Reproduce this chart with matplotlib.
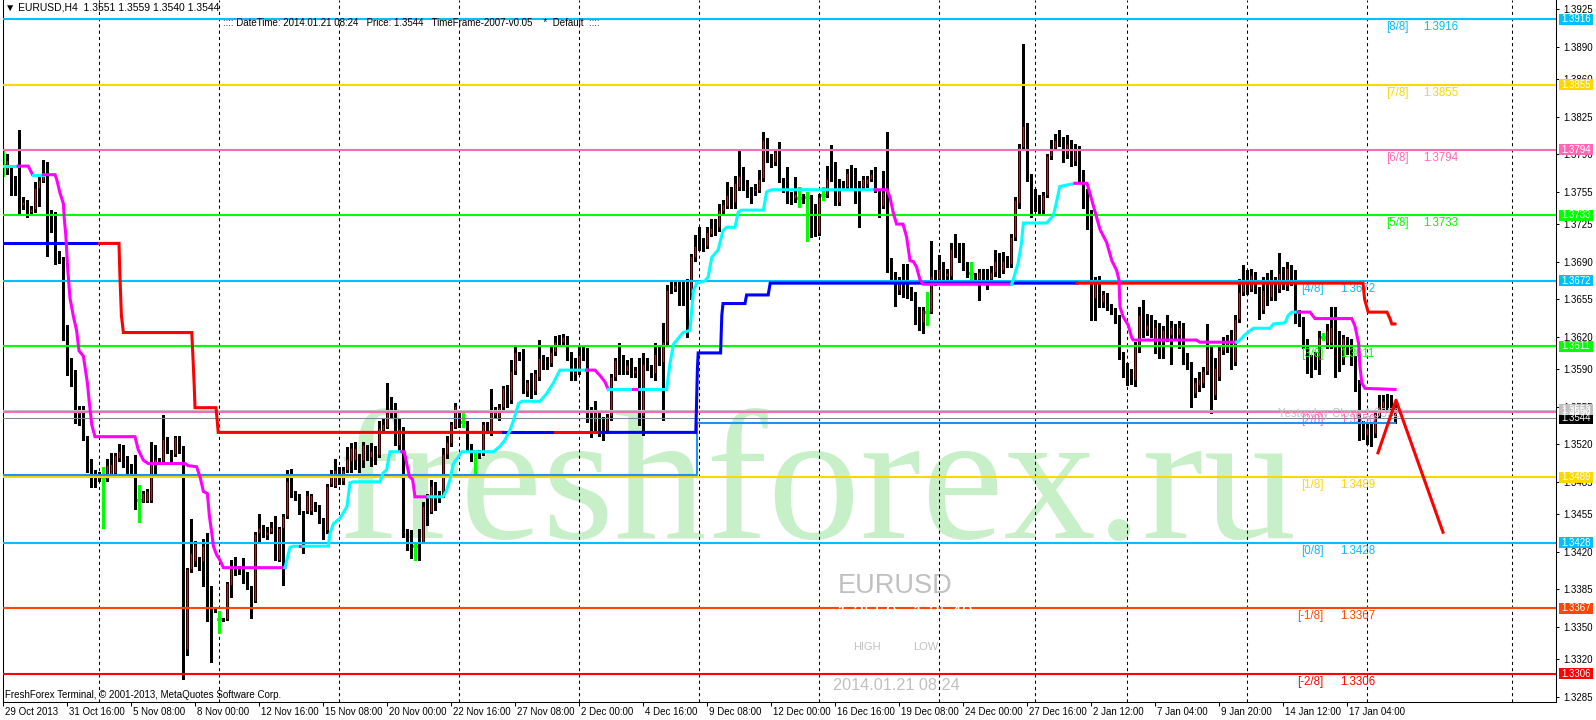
"""
EURUSD H4 chart with Murrey Math levels, trend lines and terminal labels
"""
import matplotlib
matplotlib.use("Agg")
import matplotlib.pyplot as plt
import matplotlib.transforms as mtransforms
from matplotlib.patches import Rectangle

plt.rcParams['font.family'] = ['Liberation Sans', 'DejaVu Sans']

# H4 candles, oldest first
opens = [
    1.3780, 1.3775, 1.3775, 1.3766, 1.3766, 1.3743, 1.3746, 1.3736, 1.3739, 1.3759,
    1.3765, 1.3771, 1.3736, 1.3734, 1.3699, 1.3692, 1.3620, 1.3600, 1.3587, 1.3548,
    1.3555, 1.3527, 1.3496, 1.3494, 1.3488, 1.3489, 1.3488, 1.3491, 1.3493, 1.3507,
    1.3515, 1.3506, 1.3501, 1.3494, 1.3468, 1.3466, 1.3467, 1.3468, 1.3502, 1.3506,
    1.3504, 1.3525, 1.3514, 1.3511, 1.3526, 1.3517, 1.3329, 1.3404, 1.3411, 1.3412,
    1.3411, 1.3425, 1.3388, 1.3366, 1.3357, 1.3357, 1.3357, 1.3389, 1.3407, 1.3406,
    1.3404, 1.3399, 1.3386, 1.3374, 1.3437, 1.3440, 1.3435, 1.3438, 1.3445, 1.3412,
    1.3442, 1.3453, 1.3483, 1.3474, 1.3473, 1.3456, 1.3458, 1.3458, 1.3463, 1.3461,
    1.3450, 1.3440, 1.3483, 1.3481, 1.3496, 1.3486, 1.3496, 1.3504, 1.3505, 1.3508,
    1.3505, 1.3514, 1.3508, 1.3514, 1.3510, 1.3533, 1.3536, 1.3549, 1.3549, 1.3519,
    1.3533, 1.3439, 1.3438, 1.3425, 1.3429, 1.3429, 1.3461, 1.3457, 1.3482, 1.3474,
    1.3474, 1.3511, 1.3521, 1.3536, 1.3549, 1.3541, 1.3540, 1.3518, 1.3514, 1.3514,
    1.3514, 1.3538, 1.3530, 1.3547, 1.3545, 1.3555, 1.3572, 1.3561, 1.3588, 1.3604,
    1.3601, 1.3570, 1.3578, 1.3570, 1.3583, 1.3599, 1.3596, 1.3596, 1.3606, 1.3618,
    1.3615, 1.3617, 1.3603, 1.3585, 1.3587, 1.3606, 1.3601, 1.3549, 1.3541, 1.3549,
    1.3541, 1.3533, 1.3546, 1.3583, 1.3599, 1.3598, 1.3588, 1.3595, 1.3586, 1.3588,
    1.3546, 1.3594, 1.3592, 1.3586, 1.3603, 1.3597, 1.3615, 1.3667, 1.3665, 1.3668,
    1.3667, 1.3670, 1.3661, 1.3694, 1.3716, 1.3707, 1.3705, 1.3716, 1.3723, 1.3722,
    1.3737, 1.3742, 1.3752, 1.3746, 1.3760, 1.3769, 1.3763, 1.3757, 1.3756, 1.3757,
    1.3768, 1.3803, 1.3787, 1.3783, 1.3790, 1.3766, 1.3758, 1.3752, 1.3749, 1.3749,
    1.3751, 1.3750, 1.3749, 1.3742, 1.3717, 1.3752, 1.3752, 1.3772, 1.3771, 1.3746,
    1.3761, 1.3760, 1.3772, 1.3767, 1.3760, 1.3760, 1.3762, 1.3767, 1.3772, 1.3755,
    1.3742, 1.3755, 1.3684, 1.3676, 1.3664, 1.3678, 1.3670, 1.3664, 1.3660, 1.3645,
    1.3634, 1.3643, 1.3643, 1.3676, 1.3674, 1.3684, 1.3677, 1.3677, 1.3702, 1.3700,
    1.3696, 1.3688, 1.3679, 1.3677, 1.3674, 1.3680, 1.3680, 1.3674, 1.3680, 1.3692,
    1.3682, 1.3691, 1.3688, 1.3713, 1.3745, 1.3797, 1.3816, 1.3768, 1.3756, 1.3750,
    1.3738, 1.3752, 1.3788, 1.3796, 1.3810, 1.3800, 1.3790, 1.3800, 1.3784, 1.3795,
    1.3770, 1.3752, 1.3735, 1.3656, 1.3674, 1.3652, 1.3658, 1.3649, 1.3645, 1.3637,
    1.3604, 1.3593, 1.3587, 1.3580, 1.3611, 1.3640, 1.3626, 1.3629, 1.3614, 1.3628,
    1.3614, 1.3629, 1.3622, 1.3628, 1.3622, 1.3630, 1.3603, 1.3595, 1.3568, 1.3575,
    1.3577, 1.3588, 1.3609, 1.3566, 1.3583, 1.3608, 1.3611, 1.3612, 1.3597, 1.3637,
    1.3662, 1.3679, 1.3665, 1.3673, 1.3664, 1.3645, 1.3670, 1.3657, 1.3667, 1.3665,
    1.3676, 1.3667, 1.3682, 1.3679, 1.3640, 1.3635, 1.3615, 1.3600, 1.3602, 1.3598,
    1.3620, 1.3614, 1.3614, 1.3631, 1.3620, 1.3599, 1.3615, 1.3612, 1.3598, 1.3577,
    1.3539, 1.3529, 1.3536, 1.3530, 1.3547, 1.3555, 1.3559, 1.3550, 1.3551,
]
highs = [
    1.3793, 1.3790, 1.3780, 1.3770, 1.3813, 1.3750, 1.3747, 1.3742, 1.3764, 1.3772,
    1.3785, 1.3783, 1.3738, 1.3736, 1.3700, 1.3694, 1.3631, 1.3600, 1.3589, 1.3556,
    1.3556, 1.3528, 1.3506, 1.3496, 1.3494, 1.3499, 1.3506, 1.3512, 1.3512, 1.3520,
    1.3519, 1.3509, 1.3502, 1.3510, 1.3482, 1.3476, 1.3478, 1.3522, 1.3519, 1.3507,
    1.3547, 1.3527, 1.3515, 1.3528, 1.3528, 1.3518, 1.3405, 1.3450, 1.3430, 1.3415,
    1.3432, 1.3437, 1.3388, 1.3368, 1.3365, 1.3358, 1.3392, 1.3412, 1.3415, 1.3407,
    1.3414, 1.3401, 1.3388, 1.3438, 1.3455, 1.3445, 1.3443, 1.3448, 1.3453, 1.3443,
    1.3455, 1.3496, 1.3497, 1.3476, 1.3474, 1.3458, 1.3476, 1.3474, 1.3466, 1.3463,
    1.3451, 1.3483, 1.3496, 1.3506, 1.3499, 1.3499, 1.3517, 1.3521, 1.3522, 1.3511,
    1.3522, 1.3519, 1.3521, 1.3518, 1.3542, 1.3544, 1.3577, 1.3564, 1.3558, 1.3544,
    1.3536, 1.3441, 1.3440, 1.3429, 1.3441, 1.3466, 1.3474, 1.3487, 1.3485, 1.3476,
    1.3516, 1.3528, 1.3541, 1.3558, 1.3551, 1.3549, 1.3542, 1.3520, 1.3515, 1.3515,
    1.3541, 1.3541, 1.3571, 1.3555, 1.3557, 1.3574, 1.3575, 1.3598, 1.3611, 1.3606,
    1.3609, 1.3580, 1.3586, 1.3589, 1.3617, 1.3603, 1.3601, 1.3611, 1.3621, 1.3622,
    1.3623, 1.3621, 1.3606, 1.3600, 1.3612, 1.3612, 1.3610, 1.3555, 1.3560, 1.3552,
    1.3545, 1.3548, 1.3585, 1.3600, 1.3614, 1.3603, 1.3598, 1.3600, 1.3592, 1.3600,
    1.3605, 1.3600, 1.3594, 1.3614, 1.3612, 1.3633, 1.3668, 1.3671, 1.3672, 1.3673,
    1.3673, 1.3674, 1.3697, 1.3715, 1.3722, 1.3712, 1.3722, 1.3730, 1.3730, 1.3744,
    1.3747, 1.3764, 1.3760, 1.3770, 1.3794, 1.3778, 1.3766, 1.3760, 1.3762, 1.3775,
    1.3811, 1.3805, 1.3790, 1.3795, 1.3801, 1.3768, 1.3778, 1.3755, 1.3769, 1.3760,
    1.3753, 1.3755, 1.3752, 1.3744, 1.3753, 1.3760, 1.3779, 1.3799, 1.3783, 1.3767,
    1.3765, 1.3776, 1.3780, 1.3777, 1.3765, 1.3770, 1.3770, 1.3775, 1.3778, 1.3758,
    1.3774, 1.3811, 1.3693, 1.3680, 1.3676, 1.3688, 1.3688, 1.3666, 1.3662, 1.3648,
    1.3648, 1.3662, 1.3709, 1.3682, 1.3696, 1.3690, 1.3683, 1.3707, 1.3716, 1.3707,
    1.3707, 1.3690, 1.3690, 1.3679, 1.3683, 1.3683, 1.3683, 1.3686, 1.3701, 1.3698,
    1.3699, 1.3695, 1.3716, 1.3750, 1.3800, 1.3893, 1.3819, 1.3772, 1.3758, 1.3752,
    1.3755, 1.3790, 1.3803, 1.3809, 1.3813, 1.3806, 1.3808, 1.3803, 1.3800, 1.3798,
    1.3775, 1.3758, 1.3738, 1.3676, 1.3677, 1.3663, 1.3661, 1.3651, 1.3647, 1.3640,
    1.3606, 1.3596, 1.3590, 1.3615, 1.3648, 1.3654, 1.3641, 1.3640, 1.3636, 1.3633,
    1.3630, 1.3640, 1.3635, 1.3632, 1.3635, 1.3633, 1.3605, 1.3597, 1.3582, 1.3587,
    1.3592, 1.3632, 1.3612, 1.3600, 1.3612, 1.3620, 1.3622, 1.3626, 1.3640, 1.3674,
    1.3687, 1.3682, 1.3683, 1.3680, 1.3666, 1.3676, 1.3679, 1.3682, 1.3676, 1.3698,
    1.3685, 1.3690, 1.3687, 1.3682, 1.3645, 1.3638, 1.3618, 1.3603, 1.3606, 1.3625,
    1.3624, 1.3632, 1.3648, 1.3648, 1.3625, 1.3622, 1.3620, 1.3618, 1.3602, 1.3580,
    1.3542, 1.3540, 1.3540, 1.3552, 1.3566, 1.3566, 1.3567, 1.3566, 1.3559,
]
lows = [
    1.3770, 1.3772, 1.3752, 1.3752, 1.3734, 1.3739, 1.3732, 1.3734, 1.3736, 1.3742,
    1.3764, 1.3695, 1.3718, 1.3688, 1.3689, 1.3617, 1.3584, 1.3574, 1.3540, 1.3538,
    1.3524, 1.3494, 1.3480, 1.3480, 1.3486, 1.3442, 1.3486, 1.3489, 1.3491, 1.3504,
    1.3499, 1.3491, 1.3491, 1.3460, 1.3448, 1.3466, 1.3466, 1.3466, 1.3489, 1.3502,
    1.3504, 1.3512, 1.3504, 1.3509, 1.3512, 1.3301, 1.3324, 1.3401, 1.3407, 1.3403,
    1.3388, 1.3355, 1.3317, 1.3364, 1.3344, 1.3355, 1.3356, 1.3378, 1.3398, 1.3399,
    1.3391, 1.3385, 1.3358, 1.3373, 1.3430, 1.3434, 1.3432, 1.3437, 1.3412, 1.3411,
    1.3389, 1.3451, 1.3471, 1.3468, 1.3455, 1.3419, 1.3456, 1.3455, 1.3458, 1.3447,
    1.3432, 1.3437, 1.3481, 1.3480, 1.3483, 1.3483, 1.3494, 1.3494, 1.3497, 1.3494,
    1.3499, 1.3505, 1.3500, 1.3502, 1.3508, 1.3532, 1.3535, 1.3544, 1.3519, 1.3515,
    1.3434, 1.3421, 1.3414, 1.3412, 1.3412, 1.3428, 1.3445, 1.3456, 1.3459, 1.3466,
    1.3471, 1.3507, 1.3518, 1.3535, 1.3536, 1.3536, 1.3513, 1.3504, 1.3491, 1.3507,
    1.3510, 1.3530, 1.3529, 1.3544, 1.3543, 1.3553, 1.3555, 1.3558, 1.3585, 1.3598,
    1.3568, 1.3565, 1.3563, 1.3567, 1.3580, 1.3590, 1.3590, 1.3593, 1.3603, 1.3613,
    1.3613, 1.3598, 1.3580, 1.3580, 1.3585, 1.3598, 1.3541, 1.3527, 1.3532, 1.3528,
    1.3524, 1.3530, 1.3543, 1.3580, 1.3585, 1.3585, 1.3585, 1.3583, 1.3583, 1.3538,
    1.3529, 1.3589, 1.3583, 1.3580, 1.3594, 1.3543, 1.3612, 1.3661, 1.3663, 1.3650,
    1.3650, 1.3620, 1.3655, 1.3691, 1.3701, 1.3700, 1.3703, 1.3714, 1.3715, 1.3719,
    1.3733, 1.3740, 1.3740, 1.3740, 1.3757, 1.3757, 1.3750, 1.3745, 1.3752, 1.3755,
    1.3765, 1.3783, 1.3778, 1.3780, 1.3764, 1.3755, 1.3745, 1.3744, 1.3746, 1.3741,
    1.3745, 1.3709, 1.3713, 1.3714, 1.3715, 1.3747, 1.3750, 1.3765, 1.3743, 1.3743,
    1.3757, 1.3757, 1.3758, 1.3745, 1.3722, 1.3757, 1.3760, 1.3765, 1.3755, 1.3732,
    1.3740, 1.3680, 1.3670, 1.3649, 1.3660, 1.3657, 1.3656, 1.3654, 1.3632, 1.3626,
    1.3624, 1.3631, 1.3642, 1.3668, 1.3670, 1.3674, 1.3670, 1.3674, 1.3694, 1.3690,
    1.3682, 1.3676, 1.3674, 1.3670, 1.3654, 1.3670, 1.3665, 1.3670, 1.3677, 1.3676,
    1.3679, 1.3685, 1.3685, 1.3710, 1.3740, 1.3795, 1.3765, 1.3732, 1.3737, 1.3733,
    1.3735, 1.3750, 1.3786, 1.3794, 1.3798, 1.3783, 1.3787, 1.3779, 1.3780, 1.3765,
    1.3740, 1.3720, 1.3636, 1.3636, 1.3648, 1.3648, 1.3645, 1.3641, 1.3633, 1.3599,
    1.3583, 1.3575, 1.3576, 1.3574, 1.3606, 1.3620, 1.3622, 1.3620, 1.3605, 1.3600,
    1.3600, 1.3616, 1.3595, 1.3618, 1.3610, 1.3595, 1.3590, 1.3555, 1.3564, 1.3570,
    1.3573, 1.3585, 1.3549, 1.3562, 1.3580, 1.3604, 1.3606, 1.3590, 1.3594, 1.3634,
    1.3659, 1.3660, 1.3663, 1.3661, 1.3637, 1.3642, 1.3650, 1.3654, 1.3654, 1.3662,
    1.3665, 1.3664, 1.3668, 1.3633, 1.3630, 1.3610, 1.3586, 1.3583, 1.3590, 1.3585,
    1.3617, 1.3610, 1.3610, 1.3583, 1.3588, 1.3595, 1.3604, 1.3594, 1.3570, 1.3524,
    1.3525, 1.3520, 1.3518, 1.3527, 1.3544, 1.3552, 1.3550, 1.3547, 1.3540,
]
closes = [
    1.3780, 1.3785, 1.3765, 1.3764, 1.3736, 1.3746, 1.3734, 1.3739, 1.3759, 1.3766,
    1.3770, 1.3735, 1.3734, 1.3702, 1.3691, 1.3620, 1.3598, 1.3587, 1.3543, 1.3553,
    1.3525, 1.3496, 1.3494, 1.3486, 1.3491, 1.3489, 1.3501, 1.3502, 1.3510, 1.3514,
    1.3504, 1.3499, 1.3494, 1.3466, 1.3468, 1.3475, 1.3476, 1.3504, 1.3506, 1.3504,
    1.3525, 1.3514, 1.3511, 1.3527, 1.3517, 1.3329, 1.3404, 1.3419, 1.3427, 1.3409,
    1.3425, 1.3388, 1.3366, 1.3365, 1.3357, 1.3355, 1.3391, 1.3404, 1.3402, 1.3401,
    1.3394, 1.3386, 1.3373, 1.3436, 1.3442, 1.3435, 1.3438, 1.3443, 1.3414, 1.3442,
    1.3453, 1.3486, 1.3473, 1.3469, 1.3456, 1.3442, 1.3473, 1.3473, 1.3460, 1.3448,
    1.3438, 1.3481, 1.3489, 1.3496, 1.3486, 1.3496, 1.3506, 1.3516, 1.3516, 1.3504,
    1.3519, 1.3508, 1.3514, 1.3508, 1.3535, 1.3539, 1.3549, 1.3546, 1.3521, 1.3534,
    1.3437, 1.3435, 1.3422, 1.3425, 1.3425, 1.3462, 1.3458, 1.3481, 1.3474, 1.3468,
    1.3511, 1.3522, 1.3539, 1.3556, 1.3541, 1.3541, 1.3516, 1.3515, 1.3514, 1.3511,
    1.3539, 1.3533, 1.3549, 1.3553, 1.3555, 1.3572, 1.3560, 1.3588, 1.3606, 1.3600,
    1.3570, 1.3578, 1.3570, 1.3586, 1.3600, 1.3594, 1.3593, 1.3606, 1.3615, 1.3615,
    1.3620, 1.3603, 1.3584, 1.3587, 1.3603, 1.3603, 1.3549, 1.3541, 1.3549, 1.3541,
    1.3534, 1.3546, 1.3583, 1.3598, 1.3588, 1.3590, 1.3594, 1.3586, 1.3589, 1.3546,
    1.3595, 1.3591, 1.3586, 1.3604, 1.3597, 1.3615, 1.3664, 1.3664, 1.3668, 1.3659,
    1.3657, 1.3659, 1.3695, 1.3705, 1.3707, 1.3704, 1.3718, 1.3721, 1.3721, 1.3738,
    1.3744, 1.3752, 1.3743, 1.3763, 1.3770, 1.3760, 1.3753, 1.3752, 1.3758, 1.3767,
    1.3803, 1.3786, 1.3782, 1.3792, 1.3766, 1.3758, 1.3747, 1.3747, 1.3753, 1.3749,
    1.3748, 1.3750, 1.3716, 1.3717, 1.3750, 1.3752, 1.3767, 1.3768, 1.3746, 1.3760,
    1.3760, 1.3773, 1.3761, 1.3760, 1.3755, 1.3767, 1.3767, 1.3772, 1.3758, 1.3741,
    1.3755, 1.3684, 1.3673, 1.3664, 1.3670, 1.3673, 1.3663, 1.3660, 1.3637, 1.3632,
    1.3645, 1.3643, 1.3677, 1.3673, 1.3683, 1.3677, 1.3679, 1.3702, 1.3698, 1.3695,
    1.3685, 1.3679, 1.3679, 1.3674, 1.3680, 1.3674, 1.3674, 1.3680, 1.3691, 1.3680,
    1.3691, 1.3688, 1.3713, 1.3747, 1.3797, 1.3816, 1.3767, 1.3750, 1.3741, 1.3736,
    1.3752, 1.3788, 1.3796, 1.3803, 1.3800, 1.3790, 1.3800, 1.3784, 1.3795, 1.3770,
    1.3752, 1.3730, 1.3651, 1.3674, 1.3652, 1.3660, 1.3648, 1.3645, 1.3637, 1.3603,
    1.3587, 1.3582, 1.3581, 1.3611, 1.3640, 1.3626, 1.3631, 1.3626, 1.3629, 1.3614,
    1.3626, 1.3626, 1.3629, 1.3626, 1.3629, 1.3601, 1.3594, 1.3567, 1.3578, 1.3581,
    1.3588, 1.3609, 1.3566, 1.3591, 1.3608, 1.3612, 1.3614, 1.3597, 1.3637, 1.3662,
    1.3670, 1.3664, 1.3678, 1.3664, 1.3645, 1.3664, 1.3654, 1.3671, 1.3657, 1.3679,
    1.3668, 1.3684, 1.3671, 1.3637, 1.3634, 1.3615, 1.3600, 1.3594, 1.3594, 1.3620,
    1.3620, 1.3626, 1.3629, 1.3595, 1.3592, 1.3619, 1.3608, 1.3597, 1.3577, 1.3532,
    1.3530, 1.3535, 1.3529, 1.3549, 1.3556, 1.3560, 1.3554, 1.3555, 1.3544,
]

# smoothed trailing line: vertices (bar, price) and colour of the following piece
trend_x = [
    0, 3.8, 6.3, 7.4, 10.1, 13.0, 13.4, 14.25, 15.1, 15.3,
    15.7, 16.2, 16.75, 17.6, 18.4, 19.0, 20.1, 21.1, 21.6, 22.2,
    23.0, 33.0, 33.8, 35.1, 36.3, 45.5, 46.3, 48.4, 49.3, 50.1,
    51.1, 51.6, 52.2, 52.6, 53.4, 54.25, 55.1, 70.5, 71.75, 72.6,
    74.2, 75.0, 81.3, 81.75, 82.6, 84.25, 86.0, 86.75, 87.6, 94.25,
    95.0, 95.9, 96.75, 99.7, 100.3, 101.6, 102.4, 103.0, 106.3, 110.0,
    110.9, 111.75, 112.6, 113.8, 114.7, 122.6, 124.25, 125.5, 126.75, 127.6,
    128.9, 129.75, 134.25, 135.9, 137.6, 138.4, 139.25, 145.9, 148.0, 149.25,
    150.5, 151.3, 157.6, 159.25, 165.9, 166.75, 167.6, 170.0, 171.75, 172.6,
    173.4, 175.5, 176.3, 177.2, 178.8, 180.0, 180.9, 183.0, 183.8, 184.6,
    190.1, 190.9, 192.2, 218.0, 221.0, 221.75, 222.6, 223.4, 225.0, 225.9,
    226.75, 227.6, 228.4, 229.25, 230.0, 252.2, 253.75, 254.6, 255.1, 260.9,
    262.6, 263.4, 264.2, 268.0, 271.0, 272.0, 273.5, 274.25, 275.9, 277.2,
    278.4, 279.0, 279.25, 280.0, 281.3, 282.2, 282.6, 298.4, 299.2, 308.4,
    309.25, 310.5, 312.6, 316.75, 317.6, 320.5, 321.3, 322.2, 323.8, 326.75,
    328.0, 337.2, 338.0, 338.9, 339.25, 339.7, 340.5, 348.0,
]
trend_y = [
    1.3779, 1.3779, 1.3779, 1.3771, 1.3771, 1.3771, 1.3767, 1.3754, 1.3744, 1.3731,
    1.3715, 1.3682, 1.3656, 1.3639, 1.3626, 1.3607, 1.3602, 1.3577, 1.3558, 1.3538,
    1.3527, 1.3527, 1.3515, 1.3505, 1.3502, 1.3502, 1.3500, 1.3499, 1.3489, 1.3476,
    1.3474, 1.3453, 1.3437, 1.3425, 1.3417, 1.3412, 1.3405, 1.3405, 1.3424, 1.3425,
    1.3425, 1.3425, 1.3425, 1.3437, 1.3446, 1.3451, 1.3462, 1.3484, 1.3485, 1.3485,
    1.3493, 1.3496, 1.3513, 1.3513, 1.3513, 1.3490, 1.3487, 1.3471, 1.3471, 1.3471,
    1.3477, 1.3487, 1.3502, 1.3508, 1.3513, 1.3513, 1.3518, 1.3524, 1.3533, 1.3542,
    1.3558, 1.3560, 1.3560, 1.3567, 1.3577, 1.3583, 1.3589, 1.3589, 1.3589, 1.3584,
    1.3578, 1.3571, 1.3571, 1.3571, 1.3571, 1.3595, 1.3613, 1.3624, 1.3626, 1.3663,
    1.3670, 1.3672, 1.3676, 1.3694, 1.3701, 1.3719, 1.3722, 1.3722, 1.3736, 1.3738,
    1.3738, 1.3755, 1.3757, 1.3757, 1.3757, 1.3750, 1.3735, 1.3725, 1.3725, 1.3713,
    1.3691, 1.3690, 1.3685, 1.3673, 1.3669, 1.3669, 1.3688, 1.3707, 1.3726, 1.3726,
    1.3733, 1.3746, 1.3760, 1.3763, 1.3763, 1.3750, 1.3730, 1.3720, 1.3708, 1.3691,
    1.3682, 1.3673, 1.3648, 1.3639, 1.3631, 1.3619, 1.3617, 1.3617, 1.3615, 1.3615,
    1.3617, 1.3622, 1.3628, 1.3628, 1.3632, 1.3633, 1.3640, 1.3643, 1.3643, 1.3643,
    1.3637, 1.3637, 1.3630, 1.3614, 1.3592, 1.3577, 1.3572, 1.3571,
]
trend_dir = ("cmmcmmmmmm" "mmmmmmmmmm" "mmmmmmmmmm" "mmmmmmmccc" "mccccccccc"
             "cccmmmmmcc" "cccccccccc" "cccccccmmm" "mcmccccccc" "cccccccccc"
             "cccmmmmmmm" "mmmmmccccc" "cccmmmmmmm" "mmmmmmmmmc" "ccccccccmm"
             "mmmmmmmm")

# stepped trend line (blue = up, red = down)
step_x = [0, 24.1, 29.0, 29.2, 29.4, 29.6, 30.1, 47.2, 47.5, 47.8, 48.0, 53.25,
          53.6, 53.8, 125.0, 138.0, 149.25, 173.2, 173.4, 173.6, 173.8, 179.4,
          179.7, 180.0, 185.5, 185.9, 191.3, 191.8, 268.5, 340.0, 340.4, 341.3,
          346.0, 346.75, 347.2, 348.0]
step_y = [1.3707, 1.3707, 1.3707, 1.3680, 1.3660, 1.3640, 1.3624, 1.3624, 1.3600,
          1.3575, 1.3554, 1.3554, 1.3540, 1.3531, 1.3531, 1.3531, 1.3531, 1.3531,
          1.3560, 1.3590, 1.3605, 1.3605, 1.3640, 1.3651, 1.3651, 1.3659, 1.3659,
          1.3670, 1.3670, 1.3670, 1.3655, 1.3643, 1.3643, 1.3637, 1.3632, 1.3632]
step_dir = "brrrrrrrrrrrrr" "brb" "bbbbbbbbbbb" "rrrrrrrr"

# support line and hand drawn arrow
support_x = [0, 173.5, 173.5, 348.0]
support_y = [1.3491, 1.3491, 1.3540, 1.3540]
arrow_x = [343.75, 348.25, 360.0]
arrow_y = [1.3512, 1.3561, 1.3438]

# Murrey Math levels
murrey_levels = [1.3916, 1.3855, 1.3794, 1.3733, 1.3672, 1.3611,
                 1.3550, 1.3489, 1.3428, 1.3367, 1.3306]
murrey_names = ['[8/8]', '[7/8]', '[6/8]', '[5/8]', '[4/8]', '[3/8]',
                '[2/8]', '[1/8]', '[0/8]', '[-1/8]', '[-2/8]']
murrey_colors = ['#00bfff', '#ffd700', '#ff69b4', '#00ff00', '#00bfff', '#00ff00',
                 '#ff69b4', '#ffd700', '#00bfff', '#ff4500', '#ff0000']
yesterday_close = 1.3552
bid_price = 1.3544

ytick_values = [1.3925, 1.3890, 1.3860, 1.3825, 1.3790, 1.3755, 1.3725, 1.3690,
                1.3655, 1.3620, 1.3590, 1.3555, 1.3520, 1.3485, 1.3455, 1.3420,
                1.3385, 1.3350, 1.3320, 1.3285]
date_labels = ['29 Oct 2013', '31 Oct 16:00', '5 Nov 08:00', '8 Nov 00:00',
               '12 Nov 16:00', '15 Nov 08:00', '20 Nov 00:00', '22 Nov 16:00',
               '27 Nov 08:00', '2 Dec 00:00', '4 Dec 16:00', '9 Dec 08:00',
               '12 Dec 00:00', '16 Dec 16:00', '19 Dec 08:00', '24 Dec 00:00',
               '27 Dec 16:00', '2 Jan 12:00', '7 Jan 04:00', '9 Jan 20:00',
               '14 Jan 12:00', '17 Jan 04:00']
label_step = 16
grid_bars = [24, 54, 84, 114, 144, 174, 204, 234, 258, 281, 311, 341, 377.25]

W, H = 1596, 720
fig = plt.figure(figsize=(W / 100, H / 100), dpi=100)
ax = fig.add_axes([2.5 / W, 18 / H, 1553.5 / W, 702 / H])
ax.set_xlim(-0.125, 388.25)
ax.set_ylim(1.32799, 1.39337)
px = 1 / 10737  # one screen pixel in price units


def draw_colored(xs, ys, codes, cmap, lw, z):
    start = 0
    for k in range(1, len(xs)):
        if k == len(xs) - 1 or codes[k] != codes[start]:
            ax.plot(xs[start:k + 1], ys[start:k + 1], color=cmap[codes[start]],
                    lw=lw, solid_capstyle='projecting', solid_joinstyle='miter',
                    zorder=z)
            start = k


# watermark and info texts (under everything)
ax.text(817 / W, 1 - 538 / H, 'freshforex.ru', transform=fig.transFigure,
        fontsize=133, family='Liberation Serif', color='#c8f0c8',
        ha='center', va='baseline', zorder=0.5)
ax.text(895 / W, 1 - 586 / H, 'EURUSD', transform=fig.transFigure,
        fontsize=19.5, color='#c0c0c0', ha='center', va='center', zorder=0.6)
ax.text(867 / W, 1 - 647 / H, 'HIGH', transform=fig.transFigure,
        fontsize=8, color='#c0c0c0', ha='center', va='center', zorder=0.6)
ax.text(926 / W, 1 - 647 / H, 'LOW', transform=fig.transFigure,
        fontsize=8, color='#c0c0c0', ha='center', va='center', zorder=0.6)
ax.text(896 / W, 1 - 685 / H, '2014.01.21 08:24', transform=fig.transFigure,
        fontsize=11.7, color='#c0c0c0', ha='center', va='center', zorder=0.6)

# grid
for b in grid_bars:
    ax.axvline(b, color='black', lw=0.75, ls=(0, (3, 3)), zorder=1)

# candles
wick_x, wick_lo, wick_hi = [], [], []
doji_x, doji_lo, doji_hi, doji_c = [], [], [], []
for i in range(len(opens)):
    o, h, l, c = opens[i], highs[i], lows[i], closes[i]
    if o == c:
        doji_x.append(i)
        doji_lo.append(l)
        doji_hi.append(h)
        doji_c.append(c)
        continue
    wick_x.append(i)
    wick_lo.append(l)
    wick_hi.append(h)
    ax.add_patch(Rectangle((i - 0.36, min(o, c)), 0.72, max(abs(c - o), px),
                           facecolor='#ff0000' if c > o else 'black',
                           edgecolor='black', lw=0.45, zorder=2.2))
ax.vlines(wick_x, wick_lo, wick_hi, color='black', lw=0.75, zorder=2.1,
          antialiased=False)
ax.vlines(doji_x, doji_lo, doji_hi, color='#00ff00', lw=0.75, zorder=2.1,
          antialiased=False)
ax.hlines(doji_c, [x - 0.4 for x in doji_x], [x + 0.4 for x in doji_x],
          color='#00ff00', lw=0.75, zorder=2.1, antialiased=False)

# horizontal levels
for lvl, col in zip(murrey_levels, murrey_colors):
    ax.axhline(lvl, color=col, lw=1.5, zorder=3)
ax.axhline(yesterday_close, color='#c0c0c0', lw=0.75, zorder=3)
ax.axhline(bid_price, color='#778899', lw=0.75, zorder=3)

# hidden white text crossing the -1/8 line
ax.text(905 / W, 1 - 613 / H, '1.3559   1.3540', transform=fig.transFigure,
        fontsize=14, color='white', ha='center', va='center', zorder=3.5)

# level captions
for k, (lvl, name, col) in enumerate(zip(murrey_levels, murrey_names, murrey_colors)):
    if k < 4:
        x_name, x_val = 345.75, 355.0
    else:
        x_name, x_val = 324.5 if k < 9 else 323.5, 334.25
    ax.text(x_name, lvl - 8 * px, name, color=col, fontsize=8.3,
            ha='left', va='center', zorder=3.6)
    ax.text(x_val, lvl - 8 * px, f'{lvl:.4f}', color=col, fontsize=8.3,
            ha='left', va='center', zorder=3.6)
ax.text(318.75, yesterday_close - 4 * px, f'Yesterday Close {yesterday_close:.4f}',
        color='#c0c0c0', fontsize=8.3, ha='left', va='center', zorder=3.55)

# indicator lines
ax.plot(support_x, support_y, color='#1e90ff', lw=1.5, zorder=4)
draw_colored(step_x, step_y, step_dir, {'b': '#0000ff', 'r': '#ff0000'}, 2.2, 4.5)
draw_colored(trend_x, trend_y, trend_dir, {'c': '#00ffff', 'm': '#ff00ff'}, 2.2, 5)
ax.plot(arrow_x, arrow_y, color='#ff0000', lw=2.2, zorder=5.5)

# axes styling
for side in ['left', 'right', 'bottom']:
    ax.spines[side].set_linewidth(0.75)
ax.spines['top'].set_visible(False)
ax.yaxis.tick_right()
ax.set_yticks(ytick_values)
ax.set_yticklabels([f'{v:.4f}' for v in ytick_values])
ax.tick_params(axis='y', direction='out', length=2.5, width=0.75, pad=2.5,
               labelsize=7)
label_bars = [label_step * k for k in range(len(date_labels))]
ax.set_xticks(label_bars)
ax.set_xticklabels([])
ax.tick_params(axis='x', direction='out', length=3, width=0.75)
xt = mtransforms.blended_transform_factory(ax.transData, ax.transAxes)
for b, lab in zip(label_bars, date_labels):
    ax.text(b + 0.5, -0.0142, lab, transform=xt, fontsize=7, ha='left',
            va='center', clip_on=False)

# price boxes on the scale
bt = mtransforms.blended_transform_factory(fig.transFigure, ax.transData)


def price_box(p, col):
    fig.add_artist(Rectangle((1558.5 / W, p - 5.5 * px), 34.5 / W, 11 * px,
                             transform=bt, facecolor=col, edgecolor='none'))
    fig.text(1561 / W, p, f'{p:.4f}', transform=bt, color='white',
             fontsize=7, ha='left', va='center')


for lvl, col in zip(murrey_levels, murrey_colors):
    price_box(lvl, col)
price_box(bid_price, 'black')
price_box(yesterday_close, '#c0c0c0')

# header / footer texts
fig.text(5 / W, 1 - 8 / H, '\u25bc EURUSD,H4  1.3551 1.3559 1.3540 1.3544',
         fontsize=7.5, ha='left', va='center')
fig.text(223 / W, 1 - 23 / H,
         ':::: DateTime: 2014.01.21 08:24   Price: 1.3544   '
         'TimeFrame-2007-v0.05    *  Default  ::::',
         fontsize=7, ha='left', va='center')
fig.text(5 / W, 1 - 695 / H,
         'FreshForex Terminal, \u00a9 2001-2013, MetaQuotes Software Corp.',
         fontsize=7, ha='left', va='center')

fig.savefig('out.png', dpi=100, facecolor='white')
